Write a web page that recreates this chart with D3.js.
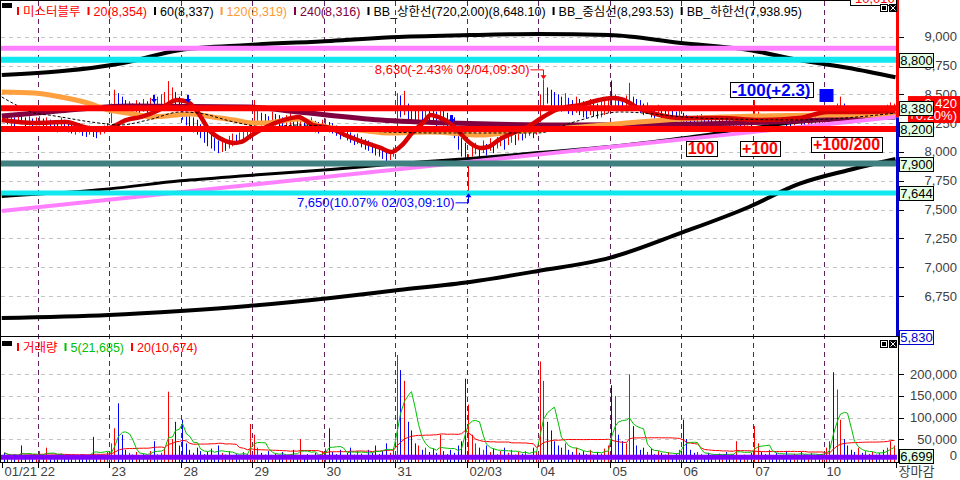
<!DOCTYPE html>
<html><head><meta charset="utf-8">
<script src="https://cdn.jsdelivr.net/npm/d3@7"></script>
<style>
html,body{margin:0;padding:0;background:#fff;}
svg{display:block;}
text{font-family:"Liberation Sans","Noto Sans CJK KR",sans-serif;}
</style></head><body>
<svg id="c" width="960" height="480"></svg>
<script>
// ---------------- DATA ----------------
const dayStarts = [0,10,30,50,70,90,110,130,150,170,190,210,230];
const dayLabels = ["01/21","22","23","28","29","30","31","02/03","04","05","06","07","10"];
const closeIndex = 250;
const closeLabel = "장마감";

const priceTicks = [9000,8750,8500,8250,8000,7750,7500,7250,7000,6750];
const volumeTicks = [200000,150000,100000,50000,0];

const priceHigh = [
 8330,8310,8320,8300,8340,8320,8300,8310,8290,8300,
 8310,8290,8300,8280,8270,8250,8300,8280,8260,8240,8230,8250,8220,8210,8230,8200,8190,8210,8230,8250,
 8420,8540,8510,8480,8450,8440,8420,8450,8430,8460,8440,8470,8450,8480,8500,8520,8615,8560,8520,8480,
 8400,8350,8320,8300,8280,8240,8200,8180,8160,8120,8100,8130,8110,8140,8160,8150,8170,8180,8200,8190,
 8450,8380,8340,8330,8310,8350,8330,8320,8300,8320,8340,8310,8300,8320,8290,8280,8300,8270,8260,8280,
 8290,8260,8250,8230,8200,8220,8190,8170,8150,8160,8130,8110,8100,8080,8060,8050,8030,8020,8010,8040,
 8510,8490,8530,8420,8400,8380,8390,8360,8400,8380,8370,8350,8380,8360,8340,8320,8300,8200,8120,8080,
 7980,8060,8080,8050,8100,8070,8120,8090,8130,8150,8110,8160,8180,8150,8200,8190,8220,8240,8210,8250,
 8500,8630,8560,8540,8520,8500,8480,8510,8470,8450,8480,8460,8440,8430,8460,8450,8420,8440,8460,8480,
 8620,8500,8480,8470,8490,8600,8480,8460,8450,8420,8430,8400,8390,8410,8380,8370,8390,8360,8350,8370,
 8340,8320,8310,8300,8320,8330,8310,8300,8290,8310,8300,8320,8310,8290,8300,8310,8290,8300,8310,8300,
 8450,8350,8320,8310,8330,8320,8300,8310,8320,8300,8290,8310,8330,8300,8290,8300,8310,8320,8300,8310,
 8360,8380,8400,8420,8480,8420,8400,8390,8380,8400,8370,8380,8360,8390,8380,8400,8390,8410,8430,8420
];
const priceLow = [
 8260,8240,8220,8200,8250,8240,8210,8230,8220,8230,
 8230,8210,8220,8200,8180,8170,8220,8190,8170,8160,8150,8170,8140,8130,8150,8130,8120,8150,8160,8180,
 8250,8350,8370,8360,8340,8330,8320,8340,8330,8350,8340,8360,8350,8370,8390,8400,8420,8430,8400,8380,
 8280,8230,8200,8170,8150,8120,8080,8050,8030,8010,7990,8000,8010,8030,8050,8060,8080,8090,8100,8110,
 8240,8260,8230,8220,8210,8240,8230,8210,8200,8220,8230,8210,8200,8210,8190,8180,8190,8170,8160,8180,
 8200,8170,8160,8140,8110,8130,8100,8080,8060,8070,8040,8020,8010,7990,7970,7960,7940,7920,7930,7960,
 8150,8300,8320,8280,8260,8250,8270,8240,8280,8260,8240,8220,8250,8230,8200,8180,8120,8020,7960,7950,
 7650,7960,7980,7950,7990,7970,8010,7990,8030,8050,8020,8060,8080,8060,8100,8100,8120,8140,8120,8150,
 8260,8380,8420,8400,8380,8360,8350,8370,8330,8320,8340,8320,8300,8290,8320,8310,8290,8300,8320,8340,
 8380,8400,8380,8370,8390,8400,8380,8360,8340,8320,8330,8300,8290,8310,8280,8270,8290,8260,8260,8270,
 8250,8240,8230,8220,8240,8250,8230,8220,8210,8230,8220,8240,8230,8210,8220,8230,8210,8220,8230,8220,
 8260,8250,8240,8230,8250,8240,8220,8230,8240,8220,8210,8230,8250,8220,8210,8220,8230,8240,8220,8230,
 8270,8290,8300,8320,8330,8320,8300,8290,8280,8300,8280,8290,8270,8290,8280,8300,8290,8310,8320,8330
];
const priceUp = [
 0,0,1,0,1,0,0,1,0,1,
 1,0,1,0,0,0,1,0,0,0,1,0,0,0,1,0,0,1,1,1,
 1,1,0,0,0,1,0,1,0,1,0,1,0,1,1,1,1,1,0,0,
 0,0,0,0,0,0,0,0,0,0,0,1,0,1,1,0,1,1,1,1,
 1,1,0,0,0,1,0,0,0,1,1,0,0,1,0,0,1,0,0,1,
 1,0,0,0,0,1,0,0,0,1,0,0,0,0,0,0,0,0,1,1,
 1,0,1,0,0,0,1,0,1,0,0,0,1,0,0,0,0,0,0,0,
 1,1,1,0,1,0,1,0,1,1,0,1,1,0,1,0,1,1,0,1,
 1,1,0,0,0,0,0,1,0,0,1,0,0,0,1,0,0,1,1,1,
 0,1,0,0,1,1,0,0,0,0,1,0,0,1,0,0,1,0,0,1,
 0,0,0,0,1,1,0,0,0,1,0,1,0,0,1,1,0,1,1,0,
 1,1,0,0,1,0,0,1,1,0,0,1,1,0,0,1,1,1,0,1,
 1,1,0,1,1,0,0,0,0,1,0,1,0,1,0,1,0,1,1,1
];
// volume in thousands of shares
const volumeK = [
 18,12,8,15,10,35,9,14,7,11,
 22,14,30,9,12,8,16,10,7,13,11,9,15,8,12,55,10,9,14,20,
 40,75,133,60,25,18,14,20,12,16,10,22,45,15,18,30,160,50,90,35,
 95,40,25,18,30,22,15,20,28,12,35,18,14,22,10,16,12,20,15,85,
 60,30,18,14,22,12,16,10,20,8,14,25,12,50,9,15,11,18,10,22,
 28,75,20,15,25,12,18,30,14,22,16,12,25,18,35,15,22,40,18,30,
 245,210,185,90,70,40,35,25,30,20,28,18,60,22,15,25,18,35,45,190,
 130,60,40,30,25,35,20,28,15,22,30,18,25,14,20,16,22,12,30,20,
 230,185,90,70,45,35,30,40,25,20,30,18,22,15,25,14,20,16,28,35,
 175,150,60,45,40,200,80,35,25,30,20,28,15,22,18,14,20,12,16,25,
 95,50,25,18,20,15,12,18,10,14,16,12,20,10,15,45,12,14,10,18,
 80,40,20,15,25,12,18,10,14,22,12,16,10,20,15,12,18,10,14,16,
 30,45,205,165,95,50,35,25,20,30,18,22,15,20,14,18,25,30,45,35
];

// moving averages / bands: [bar index, price]
const ma20 = [[0,8278],[9,8252],[18,8260],[23,8217],[27,8191],[30,8208],[35,8278],[39,8304],[44,8364],[49,8451],[52,8434],[55,8338],[58,8191],[62,8104],[65,8078],[67,8087],[70,8147],[74,8217],[79,8278],[83,8304],[87,8234],[92,8208],[96,8147],[101,8087],[106,8035],[109,8000],[112,8061],[115,8173],[118,8260],[120,8321],[122,8304],[125,8260],[128,8173],[131,8078],[134,8035],[136,8043],[139,8104],[143,8165],[148,8234],[151,8295],[155,8364],[158,8390],[162,8408],[167,8451],[171,8468],[174,8451],[178,8382],[184,8321],[190,8295],[201,8295],[212,8278],[223,8295],[231,8347],[240,8347],[250,8354]];
const ma60 = [[0,8477],[3,8425],[9,8338],[13,8321],[27,8252],[33,8234],[41,8278],[50,8347],[55,8338],[65,8260],[74,8217],[83,8234],[108,8173],[122,8165],[143,8165],[150,8165],[160,8260],[173,8347],[195,8295],[223,8278],[250,8337]];
const ma120 = [[0,8521],[9,8512],[18,8468],[24,8425],[30,8364],[37,8330],[42,8304],[49,8321],[53,8330],[59,8304],[65,8278],[70,8252],[74,8252],[80,8278],[83,8286],[89,8226],[100,8191],[109,8165],[120,8173],[134,8147],[143,8173],[150,8191],[162,8217],[178,8260],[195,8295],[212,8312],[231,8321],[250,8319]];
const ma240 = [[0,8312],[13,8347],[36,8399],[69,8390],[83,8347],[106,8278],[125,8252],[162,8234],[195,8243],[223,8269],[250,8316]];
const bbUpper = [[0,8668],[34,8772],[50,8885],[69,8928],[92,8963],[111,8997],[131,9014],[150,9023],[170,9014],[190,8945],[209,8885],[223,8798],[237,8729],[250,8648]];
const bbLower = [[0,6560],[30,6586],[50,6621],[69,6664],[92,6734],[111,6803],[131,6873],[150,6968],[170,7081],[190,7298],[209,7523],[223,7723],[237,7844],[250,7939]];
const bbMiddle = [[0,7614],[30,7680],[50,7750],[69,7796],[92,7848],[111,7900],[131,7943],[150,7995],[170,8047],[190,8121],[209,8204],[223,8260],[237,8286],[250,8294]];
const trendLine = [[0,7488],[250,8304]];
const levelValues = [8900,8800,8380,8200,7900,7644];
const levelBoxed = [false,true,true,true,true,true];

const legendLabels = ["미스터블루","20(8,354)","60(8,337)","120(8,319)","240(8,316)","BB_상한선(720,2.00)(8,648.10)","BB_중심선(8,293.53)","BB_하한선(7,938.95)"];
const volLegendLabels = ["거래량","5(21,685)","20(10,674)"];

const highNote = {idx:151, price:8630, text:"8,630(-2.43% 02/04,09:30)"};
const lowNote = {idx:130, price:7650, text:"7,650(10.07% 02/03,09:10)"};
const signalTexts = ["100","+100","+100/200"];
const signalIdx = [195.6,212.1,236.3];
const signalPrice = [8030,8030,8065];
const sellText = "-100(+2.3)";
const sellIdx = 215.2, sellPrice = 8542;
const blueMarkIdx = 230.7, blueMarkPrice = 8490;
const arrowIdx = [42.6,52.1,125.9];
const arrowPrice = [8425,8425,8252];
const currentPrice = 8420, currentPct = "(+0.20%)";
const splitPrice = 8300;
const lowLabel = "5,830";
const topLabel = "10,010";
const currentVolume = 6699;

// ---------------- STYLE ----------------
const legendColors = ["#ff0000","#ff0000","#000000","#ff9933","#800040","#000000","#000000","#000000"];
const volLegendColors = ["#ff0000","#00c000","#ff0000"];
const levelColors = ["#ff80ff","#10e8f0","#ff0000","#ff0000","#408080","#10e8f0"];
const levelWidths = [5,6,6,6,6,5];
const UP = "#ff0000", DOWN = "#0000ff";

// ---------------- SCALES ----------------
const svg = d3.select("#c");
const x = d3.scaleLinear().domain([10,230]).range([37.5,824]);
const yP = d3.scaleLinear().domain([6750,9000]).range([296.1,36.7]);
const yV = d3.scaleLinear().domain([0,200000]).range([460.6,374.4]);
const bx = i => Math.round(x(i+0.5))+0.5;
const PR = 897.5;

const defs = svg.append("defs");
defs.append("clipPath").attr("id","clipP").append("rect").attr("x",1).attr("y",1).attr("width",896).attr("height",335);
defs.append("clipPath").attr("id","clipV").append("rect").attr("x",1).attr("y",338).attr("width",896).attr("height",124);

// ---------------- GRID ----------------
const gGrid = svg.append("g");
priceTicks.forEach(v=>{
  gGrid.append("line").attr("x1",1).attr("x2",896).attr("y1",Math.round(yP(v))+0.5).attr("y2",Math.round(yP(v))+0.5)
   .attr("stroke","#c4c4c4").attr("stroke-dasharray","4,4");
});
volumeTicks.filter(v=>v>0).forEach(v=>{
  gGrid.append("line").attr("x1",1).attr("x2",896).attr("y1",Math.round(yV(v))+0.5).attr("y2",Math.round(yV(v))+0.5)
   .attr("stroke","#c4c4c4").attr("stroke-dasharray","4,4");
});
dayStarts.slice(1).forEach(s=>{
  const xx = Math.round(x(s))+0.5;
  gGrid.append("line").attr("x1",xx).attr("x2",xx).attr("y1",1).attr("y2",462)
   .attr("stroke","#602060").attr("stroke-dasharray","5,4");
});

// ---------------- PRICE PANEL ----------------
const gP = svg.append("g").attr("clip-path","url(#clipP)");
const pLine = d3.line().x(d=>x(d[0])).y(d=>yP(d[1])).curve(d3.curveMonotoneX);

// candles
priceHigh.forEach((h,i)=>{
  gP.append("line").attr("x1",bx(i)).attr("x2",bx(i))
    .attr("y1",yP(priceLow[i])).attr("y2",yP(h))
    .attr("stroke",priceUp[i]?UP:DOWN).attr("stroke-width",1);
});

gP.append("path").datum(bbUpper).attr("d",pLine).attr("fill","none").attr("stroke","#000").attr("stroke-width",4);
gP.append("path").datum(bbLower).attr("d",pLine).attr("fill","none").attr("stroke","#000").attr("stroke-width",4);
gP.append("path").datum(bbMiddle).attr("d",pLine).attr("fill","none").attr("stroke","#000").attr("stroke-width",3);
gP.append("path").datum(ma240).attr("d",pLine).attr("fill","none").attr("stroke","#800040").attr("stroke-width",5);
gP.append("path").datum(ma120).attr("d",pLine).attr("fill","none").attr("stroke","#ffa040").attr("stroke-width",5);
gP.append("path").datum(trendLine).attr("d",d3.line().x(d=>x(d[0])).y(d=>yP(d[1]))).attr("fill","none").attr("stroke","#ff80ff").attr("stroke-width",4);
gP.append("path").datum(ma20).attr("d",pLine).attr("fill","none").attr("stroke","#d80000").attr("stroke-width",4.5);
gP.append("path").datum(ma60).attr("d",pLine).attr("fill","none").attr("stroke","#000").attr("stroke-width",1).attr("stroke-dasharray","3,2");

// horizontal level lines
levelValues.forEach((v,k)=>{
  gP.append("line").attr("x1",0).attr("x2",898).attr("y1",yP(v)).attr("y2",yP(v))
   .attr("stroke",levelColors[k]).attr("stroke-width",levelWidths[k]);
});

// blue arrows
arrowIdx.forEach((a,k)=>{
  const ax = Math.round(x(a)), ay = Math.round(yP(arrowPrice[k]));
  gP.append("path").attr("d",`M${ax-1},${ay-8}h2v4h2l-3,4l-3,-4h2z`).attr("fill","#0000ff");
});

// annotations
{
  const hx = bx(highNote.idx), hy = yP(highNote.price);
  const cy = hy - 9.5;
  svg.append("text").attr("x",hx-14).attr("y",cy+4.5).attr("text-anchor","end").attr("font-size",13).attr("fill","#ff0000").text(highNote.text);
  svg.append("path").attr("d",`M${hx-13},${cy}H${hx}V${hy-3}`).attr("fill","none").attr("stroke","#ff0000");
  svg.append("path").attr("d",`M${hx-3},${hy-4}L${hx},${hy}L${hx+3},${hy-4}z`).attr("fill","#ff0000");
  const lx = bx(lowNote.idx), ly = yP(lowNote.price);
  const cy2 = ly + 10.5;
  svg.append("text").attr("x",lx-14).attr("y",cy2+4.5).attr("text-anchor","end").attr("font-size",13).attr("fill","#0000ff").text(lowNote.text);
  svg.append("path").attr("d",`M${lx-13},${cy2}H${lx}V${ly+3}`).attr("fill","none").attr("stroke","#0000ff");
  svg.append("path").attr("d",`M${lx-3},${ly+5}L${lx},${ly+1}L${lx+3},${ly+5}z`).attr("fill","#0000ff");
}

// signal boxes
function boxText(txt, cx, cy, color, fs){
  const g = svg.append("g");
  const r = g.append("rect");
  const t = g.append("text").attr("x",cx).attr("y",cy+fs*0.36).attr("text-anchor","middle")
    .attr("font-size",fs).attr("font-weight","bold").attr("fill",color).text(txt);
  const w = t.node().getComputedTextLength()+4;
  r.attr("x",Math.round(cx-w/2)+0.5).attr("y",Math.round(cy-7.5)+0.5).attr("width",Math.round(w)).attr("height",15)
   .attr("fill","#fff").attr("stroke","#000");
}
signalTexts.forEach((s,k)=> boxText(s, x(signalIdx[k]), yP(signalPrice[k]), "#ff0000", 16));
boxText(sellText, x(sellIdx), yP(sellPrice), "#0000ff", 17);
svg.append("rect").attr("x",x(blueMarkIdx)-7).attr("y",yP(blueMarkPrice)-6.5).attr("width",14).attr("height",13).attr("fill","#0000ff");

// ---------------- VOLUME PANEL ----------------
const gV = svg.append("g").attr("clip-path","url(#clipV)");
volumeK.forEach((v,i)=>{
  gV.append("line").attr("x1",bx(i)).attr("x2",bx(i)).attr("y1",yV(0)+1.5).attr("y2",yV(v*1000))
   .attr("stroke",priceUp[i]?UP:DOWN).attr("stroke-width",1);
});
const rolling = n => volumeK.map((v,i)=> d3.mean(volumeK.slice(Math.max(0,i-n+1), i+1)));
const vLine = d3.line().x((d,i)=>bx(i)).y(d=>yV(d*1000));
gV.append("path").datum(rolling(20)).attr("d",vLine).attr("fill","none").attr("stroke","#ff0000").attr("stroke-width",1);
gV.append("path").datum(rolling(5)).attr("d",vLine).attr("fill","none").attr("stroke","#00c000").attr("stroke-width",1);
gV.append("line").attr("x1",0).attr("x2",898).attr("y1",yV(currentVolume)-0.5).attr("y2",yV(currentVolume)-0.5)
  .attr("stroke","#8000ff").attr("stroke-width",5);

// ---------------- FRAMES / AXES ----------------
svg.append("line").attr("x1",0).attr("x2",PR).attr("y1",0.5).attr("y2",0.5).attr("stroke","#000");
svg.append("line").attr("x1",0.5).attr("x2",0.5).attr("y1",0).attr("y2",462).attr("stroke","#000");
svg.append("line").attr("x1",0).attr("x2",899).attr("y1",336.5).attr("y2",336.5).attr("stroke","#000");
svg.append("line").attr("x1",0).attr("x2",899).attr("y1",462.5).attr("y2",462.5).attr("stroke","#000");
svg.append("line").attr("x1",PR).attr("x2",PR).attr("y1",0).attr("y2",yP(splitPrice)).attr("stroke","#ff0000").attr("stroke-width",3);
svg.append("line").attr("x1",PR).attr("x2",PR).attr("y1",yP(splitPrice)).attr("y2",336).attr("stroke","#0000cc").attr("stroke-width",3);
svg.append("line").attr("x1",898.5).attr("x2",898.5).attr("y1",337).attr("y2",462).attr("stroke","#000");

// price axis
priceTicks.forEach(v=>{
  const yy = Math.round(yP(v))+0.5;
  svg.append("line").attr("x1",899).attr("x2",904).attr("y1",yy).attr("y2",yy).attr("stroke","#000");
  svg.append("text").attr("x",957).attr("y",yP(v)+4.5).attr("text-anchor","end").attr("font-size",13).attr("fill","#404040")
   .text(d3.format(",")(v));
});
volumeTicks.forEach(v=>{
  const yy = Math.round(yV(v))+0.5;
  svg.append("line").attr("x1",899).attr("x2",904).attr("y1",yy).attr("y2",yy).attr("stroke","#000");
  svg.append("text").attr("x",957).attr("y",Math.min(yV(v)+4.5,460)).attr("text-anchor","end").attr("font-size",13).attr("fill","#404040")
   .text(d3.format(",")(v));
});

// current price red box
{
  const cy = yP(currentPrice);
  svg.append("rect").attr("x",908).attr("y",cy-7.5).attr("width",52).attr("height",27).attr("fill","#ff0000");
  svg.append("text").attr("x",957).attr("y",cy+4).attr("text-anchor","end").attr("font-size",13).attr("fill","#fff").text(d3.format(",")(currentPrice));
  svg.append("text").attr("x",957).attr("y",cy+16).attr("text-anchor","end").attr("font-size",13).attr("fill","#fff").text(currentPct);
}
// level value boxes
function valueBox(txt, cy, fill, stroke, color){
  svg.append("rect").attr("x",899.5).attr("y",Math.round(cy-7)+0.5).attr("width",34).attr("height",14).attr("fill",fill).attr("stroke",stroke);
  svg.append("text").attr("x",916.5).attr("y",Math.round(cy-7)+12).attr("text-anchor","middle").attr("font-size",13).attr("fill",color).text(txt);
}
levelValues.forEach((v,k)=>{ if(levelBoxed[k]) valueBox(d3.format(",")(v), yP(v), "#e4ffe4", "#000", "#000"); });
valueBox(lowLabel, 337, "#fff", "#0000cc", "#0000cc");
valueBox(d3.format(",")(currentVolume), yV(currentVolume)-2, "#e4ffe4", "#000", "#000");

// top-right max box
svg.append("rect").attr("x",850.5).attr("y",-9.5).attr("width",46).attr("height",15).attr("fill","#fff").attr("stroke","#000");
svg.append("text").attr("x",855).attr("y",3).attr("font-size",13).attr("fill","#ff0000").text(topLabel);

// panel icons
function icons(y){
  svg.append("rect").attr("x",880.5).attr("y",y+0.5).attr("width",7).attr("height",7).attr("fill","#fff").attr("stroke","#000");
  svg.append("rect").attr("x",882).attr("y",y+2).attr("width",4).attr("height",4).attr("fill","#000");
  svg.append("rect").attr("x",889).attr("y",y).attr("width",8).attr("height",8).attr("fill","#000");
  svg.append("path").attr("d",`M${890.5},${y+1.5}L${895.5},${y+6.5}M${895.5},${y+1.5}L${890.5},${y+6.5}`).attr("stroke","#fff");
}
icons(4); icons(340);

// x axis
dayStarts.concat([closeIndex]).forEach((s,k)=>{
  const xx = Math.round(x(s))+0.5;
  svg.append("line").attr("x1",xx).attr("x2",xx).attr("y1",462).attr("y2",468).attr("stroke","#000");
  svg.append("text").attr("x",xx+2).attr("y",476).attr("font-size",13).attr("fill","#404040")
    .text(k<dayLabels.length?dayLabels[k]:closeLabel);
});

// legends
function legend(labels, colors, y, y0){
  svg.append("rect").attr("x",2).attr("y",y0).attr("width",10).attr("height",5).attr("fill","#000");
  let cx = 17;
  labels.forEach((l,k)=>{
    svg.append("rect").attr("x",cx).attr("y",y-9).attr("width",2).attr("height",8).attr("fill",colors[k]);
    const t = svg.append("text").attr("x",cx+6).attr("y",y).attr("font-size",12.5).attr("fill",colors[k]).text(l);
    cx += 6 + t.node().getComputedTextLength() + 7;
  });
}
legend(legendLabels, legendColors, 16, 3);
legend(volLegendLabels, volLegendColors, 352, 341);
</script>
</body></html>
